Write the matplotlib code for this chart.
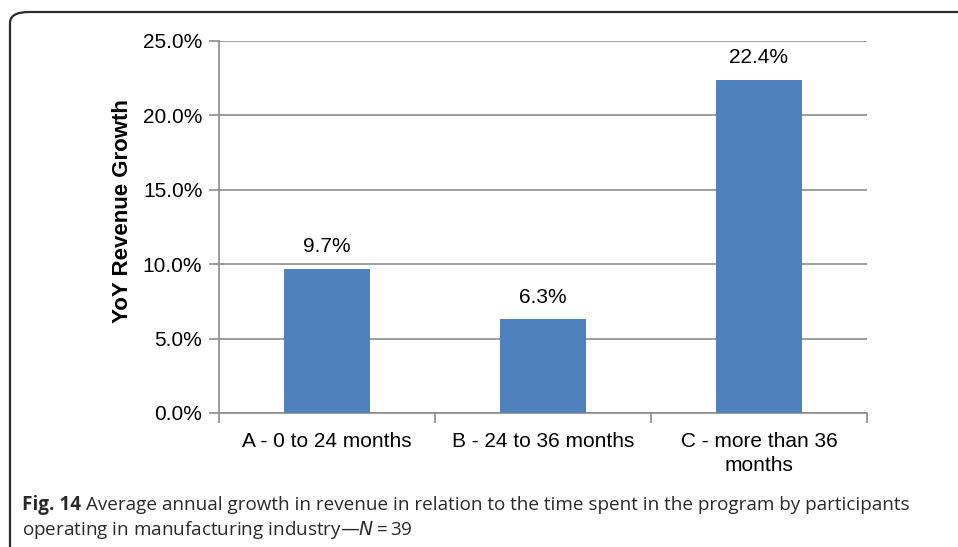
import matplotlib
matplotlib.use("Agg")
import matplotlib.pyplot as plt
from matplotlib.patches import FancyBboxPatch
from matplotlib.ticker import FuncFormatter, FixedLocator

categories = ["A - 0 to 24 months", "B - 24 to 36 months", "C - more than 36\nmonths"]
values = [9.7, 6.3, 22.4]
value_labels = ["9.7%", "6.3%", "22.4%"]
yticks = [0, 5, 10, 15, 20, 25]

plt.rcParams['font.family'] = ['Liberation Sans', 'DejaVu Sans']

fig = plt.figure(figsize=(9.58, 5.47), dpi=100)
ax = fig.add_axes([219/958, 1-413/547, (867-219)/958, (413-41)/547])

grid_c = "#8c8c8c"
x = list(range(len(categories)))
ax.bar(x, values, width=0.4, color="#4F81BD", zorder=3)
for xi, v, lab in zip(x, values, value_labels):
    ax.annotate(lab, (xi, v), xytext=(0, 9), textcoords="offset points",
                ha="center", va="bottom", fontsize=15, color="black")

ax.set_xlim(-0.5, len(categories) - 0.5)
ax.set_ylim(0, 25)
ax.set_yticks(yticks)
ax.yaxis.set_major_formatter(FuncFormatter(lambda v, p: f"{v:.1f}%"))
ax.yaxis.grid(True, color=grid_c, linewidth=1.2, zorder=0)
ax.set_axisbelow(True)

ax.set_xticks(x)
ax.set_xticklabels(categories, fontsize=15, linespacing=1.3)
ax.xaxis.set_minor_locator(FixedLocator([i - 0.5 for i in range(len(categories) + 1)]))
ax.tick_params(axis="x", which="major", length=0, pad=14)
ax.tick_params(axis="x", which="minor", length=7, color=grid_c, width=1.2)
ax.tick_params(axis="y", length=7, color=grid_c, width=1.2, labelsize=15, pad=5)

for s in ["top", "right"]:
    ax.spines[s].set_visible(False)
for s in ["left", "bottom"]:
    ax.spines[s].set_color(grid_c)
    ax.spines[s].set_linewidth(1.2)

ax.set_ylabel("YoY Revenue Growth", fontsize=16, fontweight="bold")
ax.yaxis.set_label_coords((122.5 - 219) / 648, (413 - 211.5) / 372)
ax.yaxis.label.set_va("center")

# rounded border around the figure block
box = FancyBboxPatch((10/958, -0.2), 1.2, 1 - 12/547 + 0.2,
                     boxstyle="round,pad=0,rounding_size=0.02",
                     transform=fig.transFigure, fill=False,
                     edgecolor="#2b2b2b", linewidth=1.6, clip_on=False)
fig.patches.append(box)

# caption
cap_font = ['Open Sans', 'DejaVu Sans']
cap_c = "#2a2a2a"
cs = 13.6
t1 = fig.text(22/958, 1 - 505/547, "Fig. 14", fontsize=cs, fontweight="bold",
              family=cap_font, va="center", color=cap_c)
ax.annotate("Average annual growth in revenue in relation to the time spent in the program by participants",
            xy=(1, 0.5), xycoords=t1, xytext=(3.5, 0), textcoords="offset points",
            fontsize=cs, family=cap_font, va="center", ha="left", color=cap_c,
            annotation_clip=False)
fig.text(22/958, 1 - 530/547, "operating in manufacturing industry\u2014$N$\u2009=\u200939",
         fontsize=cs, family=cap_font, va="center", color=cap_c)

fig.savefig("out.png", dpi=100)
